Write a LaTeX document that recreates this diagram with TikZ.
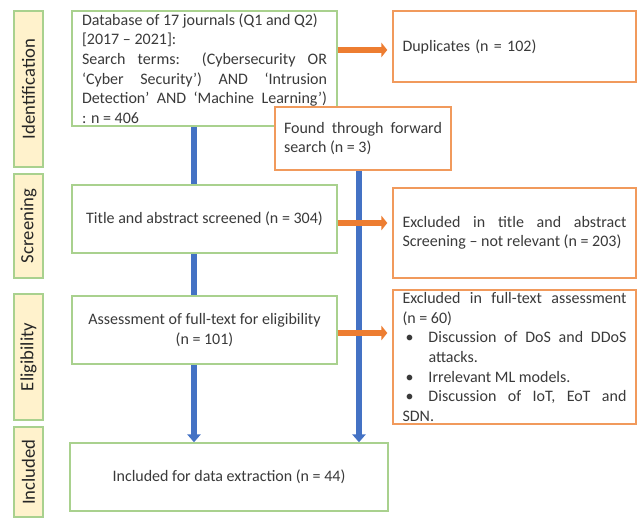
\documentclass[tikz,border=0pt]{standalone}
\usepackage{fontspec}
\setmainfont{Carlito}
\usetikzlibrary{arrows.meta,positioning,calc}
\definecolor{boxgreen}{HTML}{A9D18E}
\definecolor{boxorange}{HTML}{F19A5C}
\definecolor{stagefill}{HTML}{FFF2CC}
\definecolor{flowblue}{HTML}{4472C4}
\definecolor{exorange}{HTML}{ED7D31}
\definecolor{txtgray}{HTML}{3A3A3A}
\newcommand{\bitem}{\par\noindent\hangindent=19.5pt\hangafter=1\makebox[19.5pt][l]{\hspace{2.25pt}\textbullet}}
\pgfdeclarelayer{back}
\pgfsetlayers{back,main}

\begin{document}
\begin{tikzpicture}[x=0.75pt,y=-0.75pt,
  every node/.style={font=\fontsize{12}{14.7}\selectfont,text=txtgray},
  stage/.style={draw=boxgreen,fill=stagefill,line width=0.9pt,inner sep=0pt,minimum height=21.75pt,rotate=90,font=\fontsize{14}{16}\selectfont,text=black!85},
  box/.style={draw=boxgreen,fill=white,line width=1.1pt,inner sep=0pt,minimum width=198.75pt,minimum height=51pt,align=center},
  xbox/.style={draw=boxorange,fill=white,line width=1.1pt,inner sep=0pt,minimum width=182.25pt,text width=168pt,align=justify},
  down/.style={draw=flowblue,line width=4.5pt,-{Triangle[width=10pt,length=6pt]}},
  exarr/.style={draw=exorange,line width=4.5pt,-{Triangle[width=11pt,length=4.5pt]},shorten >=3.75pt}
]
\useasboundingbox (0,0) rectangle (639,518);
\node[stage,minimum width=117pt] (sId) at (28.5,89) {Identification};
\node[stage,minimum width=78pt] (sScr) at (28.5,226) {Screening};
\node[stage,minimum width=94.5pt] (sElig) at (28.5,357) {Eligibility};
\node[stage,minimum width=67.5pt] (sInc) at (28.5,472) {Included};
\node[box,minimum height=86.25pt,text width=183.75pt,align=justify] (db) at (204.5,68.5) {Database of 17 journals (Q1 and Q2)\\{[}2017 -- 2021{]}:\\Search terms: (Cybersecurity OR\linebreak `Cyber Security') AND `Intrusion\linebreak Detection' AND `Machine Learning')\linebreak : n = 406};
\node[draw=boxorange,fill=white,line width=1.1pt,inner sep=0pt,minimum width=132pt,minimum height=47.25pt,text width=118.5pt,align=justify] (found) at (363,138.5) {Found through forward\linebreak search (n = 3)};
\node[xbox,minimum height=53.25pt,align=left] (dup) at (514.5,46.5) {Duplicates (n = 102)};
\node[box] (title) at (204.5,219) {Title and abstract screened (n = 304)};
\node[xbox,minimum height=67.5pt] (exTitle) at (514.5,233) {Excluded in title and abstract\linebreak Screening -- not relevant (n = 203)};
\node[box] (assess) at (204.5,330) {Assessment of full-text for eligibility\\(n = 101)};
\node[xbox,minimum height=100.5pt] (exFull) at (514.5,357) {Excluded in full-text assessment\linebreak (n = 60)\bitem Discussion of DoS and DDoS\linebreak attacks.\bitem Irrelevant ML models.\bitem Discussion of IoT, EoT and\linebreak SDN.};
\node[box,minimum width=238.5pt] (incl) at (229,477) {Included for data extraction (n = 44)};
\coordinate (laneA) at (194,0);
\coordinate (laneB) at (359,0);
\begin{pgfonlayer}{back}
\draw[down] (db.south -| laneA) -- (incl.north -| laneA);
\draw[down] (found.south -| laneB) -- (incl.north -| laneB);
\end{pgfonlayer}
\draw[exarr] ([yshift=13.9pt]db.east) -- ([yshift=13.9pt]db.east -| dup.west);
\draw[exarr] ([yshift=-3pt]title.east) -- ([yshift=-3pt]title.east -| exTitle.west);
\draw[exarr] ([yshift=-2.25pt]assess.east) -- ([yshift=-2.25pt]assess.east -| exFull.west);
\end{tikzpicture}
\end{document}
